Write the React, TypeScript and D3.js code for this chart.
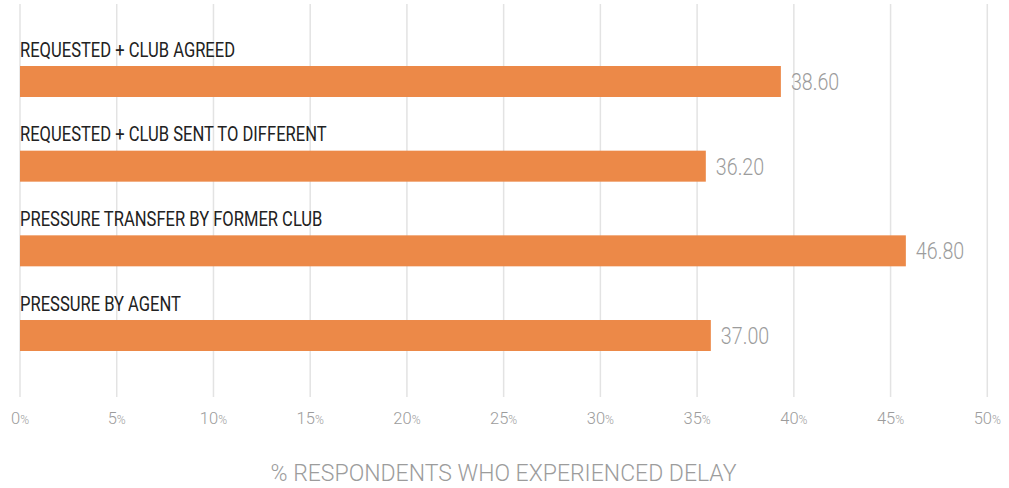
import { useMemo } from 'react';
import * as d3 from 'd3';

const categories = [
  'REQUESTED + CLUB AGREED',
  'REQUESTED + CLUB SENT TO DIFFERENT',
  'PRESSURE TRANSFER BY FORMER CLUB',
  'PRESSURE BY AGENT',
];
// bar lengths as drawn in the picture
const barValues = [39.33, 35.45, 45.79, 35.71];
// value labels printed next to the bars
const valueLabels = ['38.60', '36.20', '46.80', '37.00'];
const xTicks = [0, 5, 10, 15, 20, 25, 30, 35, 40, 45, 50];
const axisTitle = '% RESPONDENTS WHO EXPERIENCED DELAY';

const W = 1009;
const H = 488;
const FONT = 'Roboto, "DejaVu Sans Condensed", sans-serif';
const BAR = '#ec8948';
const GRID = '#e3e3e3';
const MUTED = '#9c9c9c';
// horizontal squeeze to get the condensed look of the original face
const LABEL_SX = 0.85;
const VALUE_SX = 0.82;

export default function App() {
  const chart = useMemo(() => {
    const x = d3.scaleLinear().domain([0, 50]).range([20, 987.3]);
    const y = d3.scaleBand<string>()
      .domain(categories)
      .range([66, 351])
      .paddingInner(0.634)
      .paddingOuter(0);
    return { x, y };
  }, []);

  const { x, y } = chart;

  return (
    <div style={{ position: 'absolute', left: 0, top: 0 }}>
      <svg width={W} height={H} style={{ display: 'block', background: '#fff' }}>
        {/* grid */}
        {xTicks.map((t) => (
          <line
            key={t}
            x1={x(t)} x2={x(t)} y1={4} y2={397}
            stroke={GRID}
            strokeWidth={1.5}
          />
        ))}

        {/* tick labels */}
        {xTicks.map((t) => (
          <text
            key={`l${t}`}
            x={x(t)} y={423.5}
            textAnchor="middle"
            fontFamily={FONT}
            fontWeight={300}
            fontSize={16.5}
            fill={MUTED}
          >
            {t}
            <tspan fontSize={12}>%</tspan>
          </text>
        ))}

        {/* bars + labels */}
        {categories.map((c, i) => {
          const top = y(c) ?? 0;
          return (
            <g key={c}>
              <text
                transform={`translate(${x(0)},${top - 9.5}) scale(${LABEL_SX},1)`}
                fontFamily={FONT}
                fontSize={19.5}
                fill="#222"
              >
                {c}
              </text>
              <rect
                x={x(0)} y={top}
                width={x(barValues[i]) - x(0)}
                height={y.bandwidth()}
                fill={BAR}
              />
              <text
                transform={`translate(${x(barValues[i]) + 10},${top + y.bandwidth() / 2 + 8.5}) scale(${VALUE_SX},1)`}
                fontFamily={FONT}
                fontWeight={300}
                fontSize={24}
                fill={MUTED}
              >
                {valueLabels[i]}
              </text>
            </g>
          );
        })}

        {/* axis title */}
        <text
          x={503.5} y={481}
          textAnchor="middle"
          fontFamily={FONT}
          fontWeight={300}
          fontSize={23}
          fill={MUTED}
        >
          {axisTitle}
        </text>
      </svg>
    </div>
  );
}
